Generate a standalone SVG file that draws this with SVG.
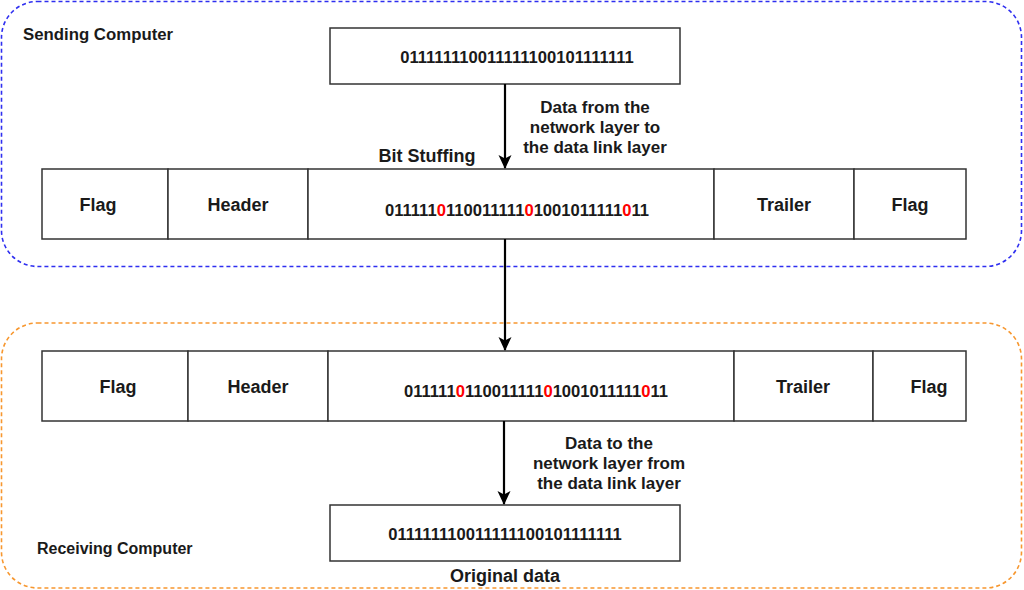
<svg xmlns="http://www.w3.org/2000/svg" width="1024" height="590" viewBox="0 0 1024 590">
<style>
text{font-family:"Liberation Sans",Arial,sans-serif;font-weight:bold;fill:#1a1a1a}
.lbl{font-size:18px;text-anchor:middle}
.bits{font-size:16.6px;text-anchor:middle}
.note{font-size:17px;text-anchor:middle}
.big{font-size:18px;text-anchor:middle}
.cell{fill:#fff;stroke:#333;stroke-width:1.5}
.red{fill:#ff0000}
.conn{stroke:#000;stroke-width:2.2;fill:none;marker-end:url(#arr)}
</style>
<defs>
<marker id="arr" viewBox="0 0 14 14" refX="13" refY="7" markerWidth="14" markerHeight="14" markerUnits="userSpaceOnUse" orient="auto">
<path d="M0,0.5 L14,7 L0,13.5 L3.5,7 Z" fill="#000"/>
</marker>
</defs>
<g id="sending-container">
<rect x="1.5" y="1.5" width="1020" height="265" rx="36" ry="36" fill="none" stroke="#2f2ff0" stroke-width="1.6" stroke-dasharray="4,3"/>
<text x="23" y="40" style="font-size:16.8px">Sending Computer</text>
</g>
<g id="receiving-container">
<rect x="1.5" y="323" width="1020" height="265" rx="36" ry="36" fill="none" stroke="#f7972f" stroke-width="1.6" stroke-dasharray="4,3"/>
<text x="37" y="554" style="font-size:16px">Receiving Computer</text>
</g>
<g id="source-data">
<rect class="cell" x="330" y="28" width="350" height="56"/>
<text class="bits" x="517" y="63">011111110011111100101111111</text>
</g>
<g id="frame-send">
<rect class="cell" x="42" y="169" width="126" height="70"/>
<text class="lbl" x="98" y="211">Flag</text>
<rect class="cell" x="168" y="169" width="140" height="70"/>
<text class="lbl" x="238" y="211">Header</text>
<rect class="cell" x="308" y="169" width="406" height="70"/>
<text class="bits" x="517" y="216">011111<tspan class="red">0</tspan>110011111<tspan class="red">0</tspan>1001011111<tspan class="red">0</tspan>11</text>
<rect class="cell" x="714" y="169" width="140" height="70"/>
<text class="lbl" x="784" y="211">Trailer</text>
<rect class="cell" x="854" y="169" width="112" height="70"/>
<text class="lbl" x="910" y="211">Flag</text>
</g>
<g id="frame-receive">
<rect class="cell" x="42" y="351" width="146" height="70"/>
<text class="lbl" x="118" y="393">Flag</text>
<rect class="cell" x="188" y="351" width="140" height="70"/>
<text class="lbl" x="258" y="393">Header</text>
<rect class="cell" x="328" y="351" width="406" height="70"/>
<text class="bits" x="536" y="397">011111<tspan class="red">0</tspan>110011111<tspan class="red">0</tspan>1001011111<tspan class="red">0</tspan>11</text>
<rect class="cell" x="734" y="351" width="139" height="70"/>
<text class="lbl" x="803" y="393">Trailer</text>
<rect class="cell" x="873" y="351" width="93" height="70"/>
<text class="lbl" x="929" y="393">Flag</text>
</g>
<g id="original-data">
<rect class="cell" x="330" y="505" width="350" height="56"/>
<text class="bits" x="505" y="540">011111110011111100101111111</text>
<text class="big" x="505" y="582">Original data</text>
</g>
<g id="connectors">
<path class="conn" d="M505,84 L505,168"/>
<path class="conn" d="M505,239 L505,350"/>
<path class="conn" d="M504,421 L504,504"/>
</g>
<g id="labels">
<text class="big" x="427" y="162">Bit Stuffing</text>
<text class="note" x="595" y="113">Data from the</text>
<text class="note" x="595" y="133">network layer to</text>
<text class="note" x="595" y="153">the data link layer</text>
<text class="note" x="609" y="449">Data to the</text>
<text class="note" x="609" y="469">network layer from</text>
<text class="note" x="609" y="489">the data link layer</text>
</g>
</svg>
